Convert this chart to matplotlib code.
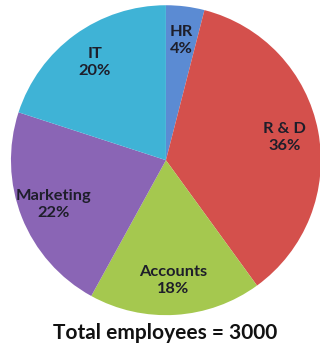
import matplotlib
matplotlib.use('Agg')
from matplotlib import pyplot as plt

# Employees by department (percent of total)
departamentos = ["HR", "R & D", "Accounts", "Marketing", "IT"]
percentuais = [4, 36, 18, 22, 20]
cores = ["#5b8bd3", "#d4504c", "#a5c84f", "#8a65b5", "#3fb3d6"]
total = 3000

plt.rcParams['font.family'] = ['Lato', 'DejaVu Sans']

fig = plt.figure(figsize=(3.2, 3.49), dpi=100)
ax = fig.add_axes([0.034, 0.097, 0.969, 0.888])

rotulos = [f"{d}\n{p}%" for d, p in zip(departamentos, percentuais)]
fatias, textos = ax.pie(percentuais, colors=cores, startangle=90, counterclock=False,
                        labels=rotulos, labeldistance=0.78,
                        wedgeprops={'linewidth': 0},
                        textprops={'fontsize': 11.8, 'fontweight': 'bold',
                                   'color': '#1e1e2a', 'ha': 'center', 'va': 'center',
                                   'linespacing': 1.25})
for t in textos:
    t.set_horizontalalignment('center')
ax.set_xlim(-1, 1)
ax.set_ylim(-1, 1)
ax.set_aspect('equal')
ax.axis('off')

fig.text(0.515, 0.045, f"Total employees = {total}", ha='center', va='center',
         fontsize=15, fontweight='bold', color='#111111')

plt.savefig('out.png', dpi=100, facecolor='white')
